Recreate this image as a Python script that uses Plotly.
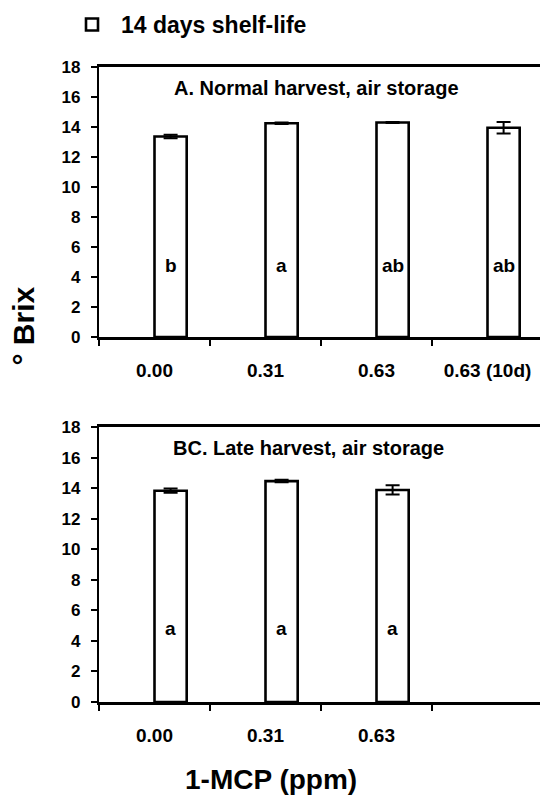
import plotly.graph_objects as go

# 1-MCP treatments (category axis labels)
doses_a = ["0.00", "0.31", "0.63", "0.63 (10d)"]
doses_b = ["0.00", "0.31", "0.63"]

# Soluble solids (°Brix) after 14 days shelf-life, with standard errors
brix_a = [13.37, 14.25, 14.30, 13.95]
err_a = [0.12, 0.05, 0.04, 0.38]
brix_b = [13.83, 14.46, 13.88]
err_b = [0.14, 0.08, 0.30]

# Mean separation letters
letters_a = ["b", "a", "ab", "ab"]
letters_b = ["a", "a", "a"]

panel_titles = ["A. Normal harvest, air storage", "BC. Late harvest, air storage"]
legend_name = "14 days shelf-life"

FONT = "Liberation Sans, Arial, Helvetica, sans-serif"
W, H = 540, 798
L = 99
BAR_W = 0.29
LETTER_Y = 4.8

fig = go.Figure()

panels = [
    dict(x="x", y="y", cats=doses_a, vals=brix_a, errs=err_a, letters=letters_a,
         title=panel_titles[0], title_x=1.455, show=True),
    dict(x="x2", y="y2", cats=doses_b, vals=brix_b, errs=err_b, letters=letters_b,
         title=panel_titles[1], title_x=1.383, show=False),
]

annotations = []
for p in panels:
    idx = list(range(len(p["cats"])))
    fig.add_trace(go.Bar(
        x=idx, y=p["vals"], xaxis=p["x"], yaxis=p["y"],
        offset=0, width=BAR_W,
        marker=dict(color="white", line=dict(color="black", width=2.6)),
        error_y=dict(type="data", array=p["errs"], visible=True,
                     color="black", thickness=2, width=7),
        name=legend_name, showlegend=p["show"],
    ))
    for i, lt in zip(idx, p["letters"]):
        annotations.append(dict(
            x=i + BAR_W / 2, y=LETTER_Y, xref=p["x"], yref=p["y"], text=lt,
            showarrow=False, font=dict(family=FONT, size=19, color="black", weight="bold"),
        ))
    annotations.append(dict(
        x=p["title_x"], y=16.6, xref=p["x"], yref=p["y"], text=p["title"],
        showarrow=False, xanchor="center",
        font=dict(family=FONT, size=20, color="black", weight="bold"),
    ))

# axis titles
annotations.append(dict(
    x=(4 - L) / (W - L), y=1 - 326 / H, xref="paper", yref="paper",
    text="° Brix", textangle=-90, showarrow=False,
    font=dict(family=FONT, size=30, color="black", weight="bold"),
))
annotations.append(dict(
    x=(271 - L) / (W - L), y=1 - 779 / H, xref="paper", yref="paper",
    text="1-MCP (ppm)", showarrow=False, yanchor="middle",
    font=dict(family=FONT, size=28, color="black", weight="bold"),
))

x_range = [-0.5, -0.5 + (W - L) / 111.0]
xaxis_common = dict(
    range=x_range, showline=True, linecolor="black", linewidth=2.5, mirror=True,
    showgrid=False, zeroline=False,
    ticks="", tickfont=dict(family=FONT, size=19, color="black", weight="bold"),
    ticklabelstandoff=14,
    minor=dict(tickvals=[-0.5, 0.5, 1.5, 2.5], ticks="outside", ticklen=6,
               tickwidth=1.5, tickcolor="black", showgrid=False),
)
yaxis_common = dict(
    range=[0, 18], dtick=2, tick0=0, showline=True, linecolor="black", linewidth=2.2,
    showgrid=False, zeroline=False, ticks="outside", ticklen=6, tickwidth=1.5,
    tickcolor="black", ticklabelstandoff=7,
    tickfont=dict(family=FONT, size=17, color="black", weight="bold"),
)

fig.update_layout(
    width=W, height=H,
    margin=dict(l=L, r=0, t=0, b=0, autoexpand=False),
    paper_bgcolor="white", plot_bgcolor="white",
    barmode="overlay",
    xaxis=dict(xaxis_common, anchor="y", domain=[0, 1],
               tickvals=list(range(len(doses_a))), ticktext=doses_a),
    xaxis2=dict(xaxis_common, anchor="y2", domain=[0, 1],
                tickvals=list(range(len(doses_b))), ticktext=doses_b),
    yaxis=dict(yaxis_common, anchor="x", domain=[1 - 337 / H, 1 - 67 / H]),
    yaxis2=dict(yaxis_common, anchor="x2", domain=[1 - 702 / H, 1 - 427 / H]),
    annotations=annotations,
    showlegend=True,
    legend=dict(xref="container", yref="container", x=63 / W, y=1 - 3 / H,
                xanchor="left", yanchor="top", itemwidth=48,
                font=dict(family=FONT, size=23, color="black", weight="bold"),
                bgcolor="rgba(0,0,0,0)"),
)

fig.write_html("out.html")
